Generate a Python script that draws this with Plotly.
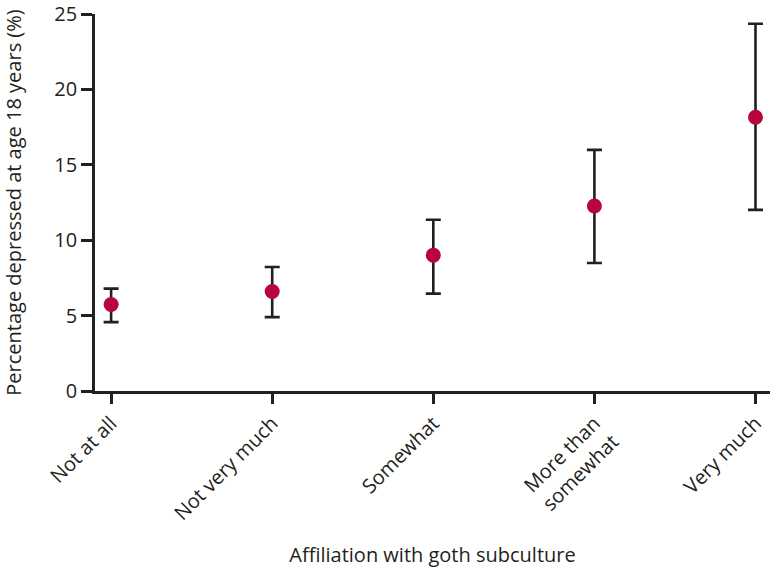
import plotly.graph_objects as go

categories = ["Not at all", "Not very much", "Somewhat", "More than<br>somewhat", "Very much"]
estimate = [5.74, 6.6, 9.01, 12.27, 18.15]
upper = [6.79, 8.22, 11.36, 15.99, 24.35]
lower = [4.57, 4.9, 6.46, 8.49, 12.01]

err_plus = [u - e for u, e in zip(upper, estimate)]
err_minus = [e - l for e, l in zip(estimate, lower)]
xpos = list(range(len(categories)))

ink = "#231F20"
font = "Open Sans, Lato, sans-serif"

fig = go.Figure(go.Scatter(
    x=xpos, y=estimate, mode="markers",
    marker=dict(color="#B8063C", size=15),
    error_y=dict(type="data", symmetric=False, array=err_plus, arrayminus=err_minus,
                 color=ink, thickness=2.6, width=7.5),
))

fig.update_layout(
    width=770, height=568,
    margin=dict(l=95, r=0, t=8, b=177),
    plot_bgcolor="white", paper_bgcolor="white",
    showlegend=False,
    font=dict(family=font, size=20, color=ink),
)
fig.update_xaxes(
    range=[-0.1, 4.09], tickvals=xpos, ticktext=categories, tickangle=-45,
    showline=True, linecolor=ink, linewidth=2.6, ticks="outside", ticklen=10,
    tickwidth=2.6, tickcolor=ink, showgrid=False, zeroline=False,
    ticklabeloverflow="allow",
    title=dict(text="Affiliation with goth subculture", standoff=26, font=dict(size=20)),
)
fig.update_yaxes(
    range=[0, 25], tickvals=[0, 5, 10, 15, 20, 25],
    showline=True, linecolor=ink, linewidth=2.6, ticks="outside", ticklen=11,
    tickwidth=2.6, tickcolor=ink, showgrid=False, zeroline=False,
    ticklabeloverflow="allow",
    title=dict(text="Percentage depressed at age 18 years (%)", standoff=28, font=dict(size=20)),
)

fig.write_html("out.html", config={"displayModeBar": False},
               post_script="document.body.style.margin='0';")
